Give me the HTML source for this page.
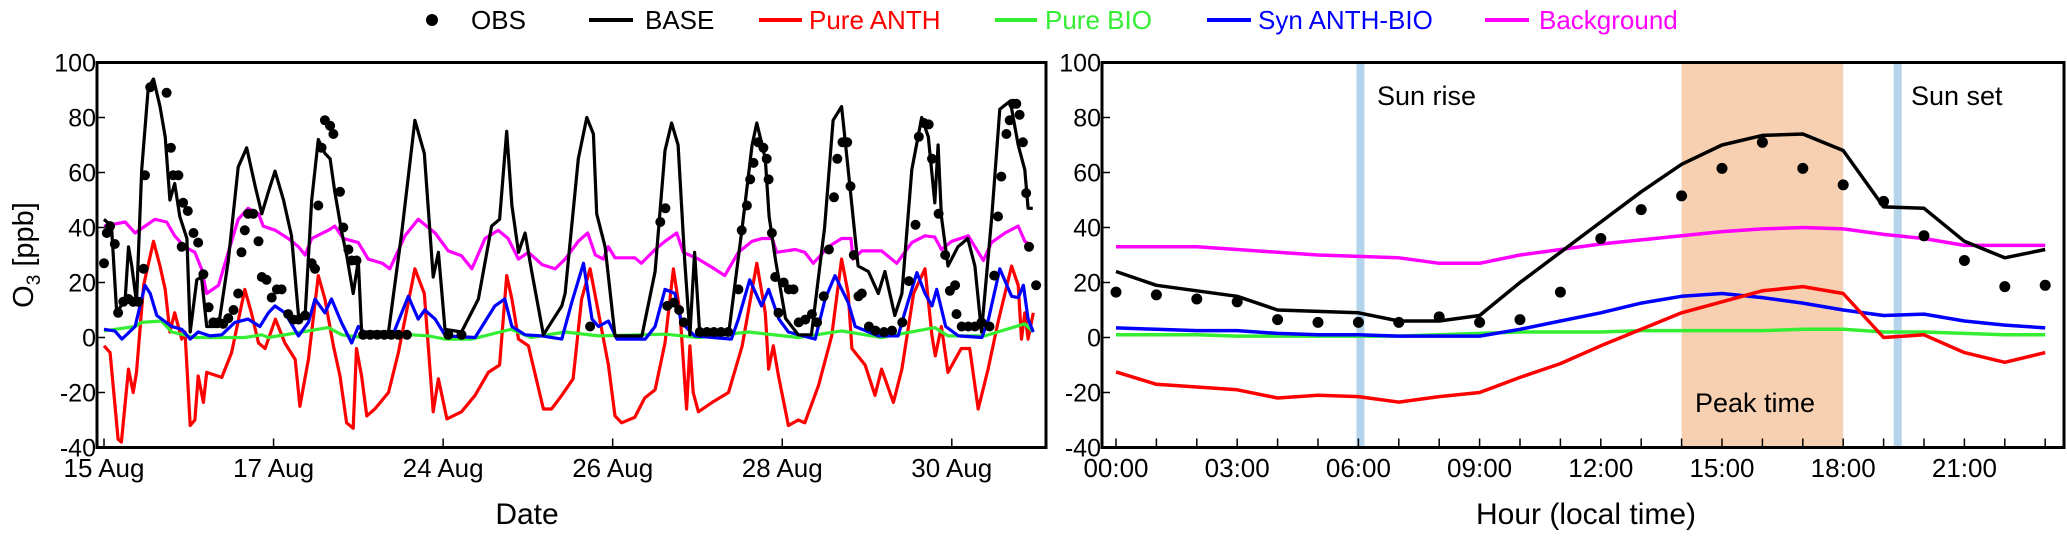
<!DOCTYPE html>
<html><head><meta charset="utf-8">
<style>
html,body{margin:0;padding:0;background:#fff;}
svg{display:block;font-family:"Liberation Sans",sans-serif;}
</style></head>
<body>
<svg id="fig" width="2067" height="536" viewBox="0 0 2067 536" xmlns="http://www.w3.org/2000/svg">
<g id="legend" font-size="26">
  <g><circle cx="432" cy="20" r="6" fill="#000"/><text x="471" y="29" fill="#000">OBS</text></g>
  <g><line x1="589" y1="20" x2="633" y2="20" stroke="#000" stroke-width="4"/><text x="645" y="29" fill="#000">BASE</text></g>
  <g><line x1="759" y1="20" x2="802" y2="20" stroke="#ff0000" stroke-width="4"/><text x="809" y="29" fill="#ff0000">Pure ANTH</text></g>
  <g><line x1="995" y1="20" x2="1037" y2="20" stroke="#33ee33" stroke-width="4"/><text x="1045" y="29" fill="#33ee33">Pure BIO</text></g>
  <g><line x1="1207" y1="20" x2="1251" y2="20" stroke="#0000ff" stroke-width="4"/><text x="1258" y="29" fill="#0000ff">Syn ANTH-BIO</text></g>
  <g><line x1="1485" y1="20" x2="1529" y2="20" stroke="#ff00ff" stroke-width="4"/><text x="1539" y="29" fill="#ff00ff">Background</text></g>
</g>
<g id="left"></g>
<g id="right"></g>
</svg>
<script>
// ---- Left panel data (x = hours from start, 36 h per labelled tick) ----
const dateTickLabels = ["15 Aug","17 Aug","24 Aug","26 Aug","28 Aug","30 Aug"];
const yTickLabels = [100,80,60,40,20,0,-20,-40];
const leftBaseX = [0,1.6,2.7,4.5,5.2,5.9,6.9,8,9.4,10.5,11.9,13,14,15,16.1,17.6,18.3,19.7,20.7,21.8,24.3,26.4,28.5,30.3,32.1,33.5,34.9,36.3,38.1,39.8,41.3,42.7,44.1,45.5,46.9,48,49,50.5,51.5,52.9,54,54.7,60.4,63.2,66,68,69.9,71,72.4,75.9,79.5,82.3,84,85.5,86.6,88,89.4,90.8,93.3,97.2,97.9,100.7,102.5,103.9,104.6,106.4,108.5,114.2,117,119.1,120.5,121.9,123.3,124.4,125.4,126.5,132.6,135.5,137.6,138.6,140.4,141.2,142.6,144.7,147.4,150.2,153,154.8,156.6,158,160.1,162.3,164.4,165.8,167.9,169.4,171.5,173.6,175,176.4,177.1,177.8,179.2,181.3,183.4,184.9,186.3,188.5,190.2,192.4,194.1,195.5,196.2,197.2];
const leftBaseY = [43,40.5,9,14,33,26,12.7,61,91,94,84,73,50,56,44,36,2,21,22,4,4,28,62,69,55,45,53,60.5,50,37,8,8,50,72,67,65,53,38,30,16,28,2,2,38,79,67,22,31,3,2,14,40.5,43,75,48,31,38,24,1,11.5,16,65,80,74,45,33,0.6,0.6,24,68,78,70,28,1,31,1,1,40,70,78,65,44,28,7,1,1,40,79,84,61,26,24,16,24,8,16,61,80,73,49,70,44,26,33,36,26,2,44,83,86,70,61,47,47];
const leftObsX = [0,0.6,1.3,2.3,3,4.1,5.2,6.2,7.3,8.4,8.7,9.8,13.3,14.2,14.7,15.8,16.8,17.8,19,20,16.5,21.1,22.2,23.2,24.3,25.3,26.4,27.5,28.5,29.2,29.9,30.6,31.7,32.8,33.5,34.5,35.6,36.7,37.7,39.1,40.2,41.3,42.7,44.1,44.8,45.5,46.2,46.9,48,48.7,50.1,50.8,51.9,52.6,53.6,55,56.5,58,59.5,61,62.5,64.3,73.1,75.9,103.2,118.1,119.2,119.6,121,122.1,123.1,126.5,128,129.5,131,132.5,134.7,135.4,136.5,137.2,137.9,138.9,140,140.7,141.1,141.8,142.5,143.2,144.3,145.4,146.4,147.5,148.9,150.3,151.4,152.8,153.9,155,155.7,156.8,157.8,158.5,159.2,160.2,160.9,162.4,163.8,165.6,167.3,169.5,170.9,172.3,173,174.1,175.1,175.8,177.2,178.6,179.6,180.7,181,182.1,183.5,184.9,186.3,188,189,189.8,190.5,191.6,192.3,193,193.7,194.4,195.1,195.8,196.4,197.9];
const leftObsY = [27,38,40.5,34,9,13,14,13,13,25,59,91,89,69,59,59,49,46,38,34.5,33,23,11,5.5,5.5,5,7,10,16,31,39,45,45,35,22,21,14.5,17.5,17.5,8.5,6.5,6.5,8,27,25,48,69,79,77,74,53,40,32,28,28,1,1,1,1,1,1,1,1,1,4,42,47,11.5,12.7,10,5.5,2,2,2,2,2,17.5,39,48,57.5,63.5,71,69,65,57.5,38,22,9,20,17.5,17.5,5.5,6.5,8.5,5.5,15,32,51,65,71,71,55,30,15,16,4,2.5,2,2.5,5.5,20.5,41,73,78,77.5,65,45,30,17,19,8.5,4,4,4,5.5,4,22.5,44,58.5,74,79,85,85,81,71,52.5,33,19];
const leftBgX = [0,4.5,6.6,10.8,13.3,15,17.1,19.3,20.7,21.8,24.3,26.4,28.5,30.6,32.8,33.8,36.4,39.1,41.3,42.7,44.1,47.6,49,50.8,54,56.1,59.1,60.7,63.9,66.7,70.3,73.1,75.9,78.1,80.9,83.7,85.8,88,90.1,93,95.8,97.9,100.7,102.7,104.3,106,107.1,108.5,112.7,114.1,117,119.1,121.6,123,126.2,129.1,131.8,134.7,137.6,139.7,141.9,142.8,144.7,146.8,148.8,150.6,153.8,156.6,158.6,159,160.9,165.1,168.3,171.5,174.3,176.4,177.8,180,183.5,184.9,186.7,188.4,191.3,194.1,195.5,197.3];
const leftBgY = [40.5,42,38,43,42,37,33,31,25,16,19,31,43,47,45,40.5,39,36,33,30,36,39,40.5,36,34.5,28.5,27,25,37,43,38,31.5,29.7,25,36,39,36,28.5,31,26.5,25,28.5,35,38,30,28.5,33,29,29,27,32,35,38,31,28.5,25.5,22.5,31,35,36,36,31,31.5,32,31,27,33,36,36,28.5,31.5,31.5,27,34.5,37,36.5,32,35,37,33,28,34.5,38,40.5,35,33];
const leftAnthX = [0,1.3,3,3.7,5.2,6.2,6.9,8.4,10.5,11.9,13,14,15,16.5,17.2,18.3,19.3,20,21.1,21.8,25,27.1,29.9,31.3,32.8,34.2,36.4,38.4,40.6,41.6,43.4,45.5,46.9,48.7,50.1,51.5,52.9,53.6,54.7,55.8,57.5,60.4,62.5,66,68,69.9,71,72.8,75.9,78.8,81.6,84,85.5,86.6,88,90.1,93.3,95,97.2,99.6,101.4,103.2,105,107.1,108.5,109.9,112.7,114.8,117,119.1,120.9,122.3,123.7,124.4,125.1,126.2,129.1,132.6,135.5,138.6,140.4,141.1,142.1,143.2,145.3,147.4,148.8,151.7,154.5,156.6,158,158.8,161.6,163.7,165.1,167.6,169.4,171.9,174.3,175.8,176.5,177.8,179.2,182,183.8,185.6,187.7,189.8,192.7,194.1,194.8,195.5,196.2,197.3];
const leftAnthY = [-3,-5.5,-37,-38,-11.5,-20,-12.7,19,35,26,17.5,2,9,-0.6,2,-32,-30,-14,-23.6,-12.7,-14.5,-5.5,17.5,9,-2,-4,6.7,-2,-8,-25,-8,22.5,14,-3,-14,-31,-33,-4,-14,-28.5,-26,-20,-5.5,25,16,-27,-15,-29.6,-27,-21,-12.7,-10,22.5,14,-0.6,-3,-26,-26,-21,-15,14,25,9,-10,-28.5,-31,-29,-22,-19,-2,25,9,-26,-3,-20,-27,-23.6,-20,-3,27,9,-11.5,-3,-14,-32,-30,-31,-17.5,0.6,28.5,16,-4,-10,-21,-11.5,-23.6,-11.5,16,25,0.6,-6.7,4,-12.7,-4,-4,-26,-11.5,5.5,26,19,-0.6,9,-0.6,9];
const leftSynX = [0,2.3,3.8,6.6,8.7,9.8,11.2,14.4,16.5,18.3,20,22.5,25,27.8,30.6,33.1,34.9,36.3,38.4,41.3,43.4,44.8,46.9,48.3,50.4,52.6,54,56.1,61.1,64.6,66.7,68.1,70.3,72.5,78.8,83,85.1,86.6,89.4,92.9,97.2,99.3,101.8,103.6,105,107.1,108.9,114.9,117,119.1,121.2,122.6,125.4,133.2,134.7,137.1,139.6,141.1,143.3,145.3,151,153.1,155.2,158,159.5,164.4,168.6,170,172.6,174.3,175.8,176.8,178.7,181.4,186.4,187.8,190.2,192.7,194.1,195.2,196.2,197.3];
const leftSynY = [3,2.4,-0.6,4,19,16,8,4,3,-0.6,2,0.6,1,5.5,6.7,4,9,11.5,9,0.6,5.5,14,9,14,5.5,-2,4,0.6,0,15,6.7,10,6.7,0.6,0,11.5,14,4,1,0.6,-0.6,12.7,27,6.7,4,6,-0.6,-0.6,4,17.5,16,5.5,0.6,-0.6,6.7,21,11.5,17.5,6.7,2,-0.6,14,22.5,12.7,4,0.6,0.6,9,23.6,16,11.5,17.5,4,0.6,0,6.7,25,15,14.5,19,6.7,2];
const leftBioX = [0,6.6,8,12.2,14.4,19.3,29.9,33.5,34.9,42,47.6,50.5,54.7,65.3,68.9,72.4,78.1,86.4,90.7,97.9,105,119.1,126.2,136.8,147.4,156.6,165.1,176.4,179.2,187,195.5,197.3];
const leftBioY = [2.4,4,5.5,6,2,0,0,1,0,2,3.6,1,0,1,0.6,-0.6,-0.6,3,0,2,0.6,1.2,0,2,0,2.4,0,3.6,0.6,0.6,5,2];

// ---- Right panel data (hourly diurnal means) ----
const hours = [0,1,2,3,4,5,6,7,8,9,10,11,12,13,14,15,16,17,18,19,20,21,22,23];
const hourTickLabels = ["00:00","03:00","06:00","09:00","12:00","15:00","18:00","21:00"];
const dBase = [24,19,17,15,10,9.5,9,6,6,8,20,31,42,53,63,70,73.5,74,68,47.5,47,35,29,32];
const dObs = [16.5,15.5,14,13,6.5,5.5,5.5,5.5,7.5,5.5,6.5,16.5,36,46.5,51.5,61.5,71,61.5,55.5,49.5,37,28,18.5,19];
const dBg = [33,33,33,32,31,30,29.5,29,27,27,30,32,34,35.5,37,38.5,39.5,40,39.5,37.5,36,33.5,33.5,33.5];
const dAnth = [-12.5,-17,-18,-19,-22,-21,-21.5,-23.5,-21.5,-20,-14.5,-9.5,-3,3,9,13,17,18.5,16,0,1,-5.5,-9,-5.5];
const dBio = [1,1,1,0.5,0.5,0.5,0.5,0.5,1,1.5,2,2,2,2.5,2.5,2.5,2.5,3,3,2,2,1.5,1,1];
const dSyn = [3.5,3,2.5,2.5,1.5,1,1,0.5,0.5,0.5,3,6,9,12.5,15,16,14.5,12.5,10,8,8.5,6,4.5,3.5];
const sunRiseHour = 6.05, sunSetHour = 19.35, peakStart = 14, peakEnd = 18;

const NS = "http://www.w3.org/2000/svg";
function mk(tag, attrs, parent){const e=document.createElementNS(NS,tag);for(const k in attrs)e.setAttribute(k,attrs[k]);parent.appendChild(e);return e;}
const yTop=62.5, yBot=447.5;
const yScale = v => yTop + (100 - v) / 140 * (yBot - yTop);

// ---------- LEFT ----------
const L = document.getElementById('left');
const lx = h => 104 + h * 4.71;
function lpath(xs, ys, color, name){
  const p = mk('path',{d: xs.map((x,i)=>(i?'L':'M')+lx(x).toFixed(1)+','+yScale(ys[i]).toFixed(1)).join(''), fill:'none', stroke:color, 'stroke-width':3.2, 'stroke-linejoin':'round'}, L);
  
  
}
lpath(leftAnthX, leftAnthY, '#ff0000', 'pure-anth-line');
lpath(leftBioX, leftBioY, '#33ee33', 'pure-bio-line');
lpath(leftSynX, leftSynY, '#0000ff', 'syn-anth-bio-line');
lpath(leftBgX, leftBgY, '#ff00ff', 'background-line');
lpath(leftBaseX, leftBaseY, '#000', 'base-line');
leftObsX.forEach((x,i)=>{
  const c = mk('circle',{cx:lx(x).toFixed(1), cy:yScale(leftObsY[i]).toFixed(1), r:5, fill:'#000'}, L);
  
  
});
const lframe = mk('rect',{x:97, y:yTop, width:949, height:yBot-yTop, fill:'none', stroke:'#000', 'stroke-width':3}, L);


yTickLabels.forEach(v=>{
  const y=yScale(v);
  const t = mk('line',{x1:97,y1:y,x2:105,y2:y,stroke:'#000','stroke-width':1.5}, L);
  
  
  const tx = mk('text',{x:96,y:y+9,'font-size':25,'text-anchor':'end'}, L);
  tx.textContent = v;
  
  
});
dateTickLabels.forEach((lab,i)=>{
  const x = lx(i*36);
  const t = mk('line',{x1:x,y1:yBot,x2:x,y2:yBot-9,stroke:'#000','stroke-width':1.5}, L);
  
  
  const tx = mk('text',{x:x,y:477,'font-size':26,'text-anchor':'middle'}, L);
  tx.textContent = lab;
  
  
});
const lxt = mk('text',{x:527,y:524,'font-size':30,'text-anchor':'middle'}, L);
lxt.textContent='Date';


const lyt = mk('text',{x:0,y:0,'font-size':29,'text-anchor':'middle',transform:'translate(33,255) rotate(-90)'}, L);
lyt.innerHTML='O<tspan font-size="19" dy="7">3</tspan><tspan dy="-7"> [ppb]</tspan>';



// ---------- RIGHT ----------
const R = document.getElementById('right');
const rx = h => 1116 + h * 40.4;
const pk = mk('rect',{x:rx(peakStart),y:yTop,width:rx(peakEnd)-rx(peakStart),height:yBot-yTop,fill:'#f6d0b0'}, R);


[[sunRiseHour,'sunrise-band'],[sunSetHour,'sunset-band']].forEach(([h,n])=>{
  const b = mk('rect',{x:rx(h)-4,y:yTop,width:8,height:yBot-yTop,fill:'#b4d4ec'}, R);
  
  
});
function rpath(ys, color, name){
  const p = mk('path',{d: hours.map((h,i)=>(i?'L':'M')+rx(h).toFixed(1)+','+yScale(ys[i]).toFixed(1)).join(''), fill:'none', stroke:color, 'stroke-width':3.5, 'stroke-linejoin':'round'}, R);
  
  
}
rpath(dBg, '#ff00ff', 'diurnal-background-line');
rpath(dBio, '#33ee33', 'diurnal-pure-bio-line');
rpath(dSyn, '#0000ff', 'diurnal-syn-anth-bio-line');
rpath(dAnth, '#ff0000', 'diurnal-pure-anth-line');
rpath(dBase, '#000', 'diurnal-base-line');
hours.forEach((h,i)=>{
  const c = mk('circle',{cx:rx(h).toFixed(1), cy:yScale(dObs[i]).toFixed(1), r:5.5, fill:'#000'}, R);
  
  
});
const rframe = mk('rect',{x:1102, y:yTop, width:962, height:yBot-yTop, fill:'none', stroke:'#000', 'stroke-width':3}, R);


yTickLabels.forEach(v=>{
  const y=yScale(v);
  const t = mk('line',{x1:1102,y1:y,x2:1110,y2:y,stroke:'#000','stroke-width':1.5}, R);
  
  
  const tx = mk('text',{x:1101,y:y+9,'font-size':25,'text-anchor':'end'}, R);
  tx.textContent = v;
  
  
});
hours.forEach(h=>{
  const t = mk('line',{x1:rx(h),y1:yBot,x2:rx(h),y2:yBot-9,stroke:'#000','stroke-width':1.5}, R);
  
  
});
hourTickLabels.forEach((lab,i)=>{
  const tx = mk('text',{x:rx(i*3),y:477,'font-size':26,'text-anchor':'middle'}, R);
  tx.textContent = lab;
  
  
});
const rxt = mk('text',{x:1586,y:524,'font-size':30,'text-anchor':'middle'}, R);
rxt.textContent='Hour (local time)';


[['Sun rise',1377,105,'sunrise-label'],['Sun set',1911,105,'sunset-label'],['Peak time',1695,412,'peak-time-label']].forEach(([s,x,y,n])=>{
  const tx = mk('text',{x:x,y:y,'font-size':27}, R);
  tx.textContent = s;
  
  
});
</script>
</body></html>
